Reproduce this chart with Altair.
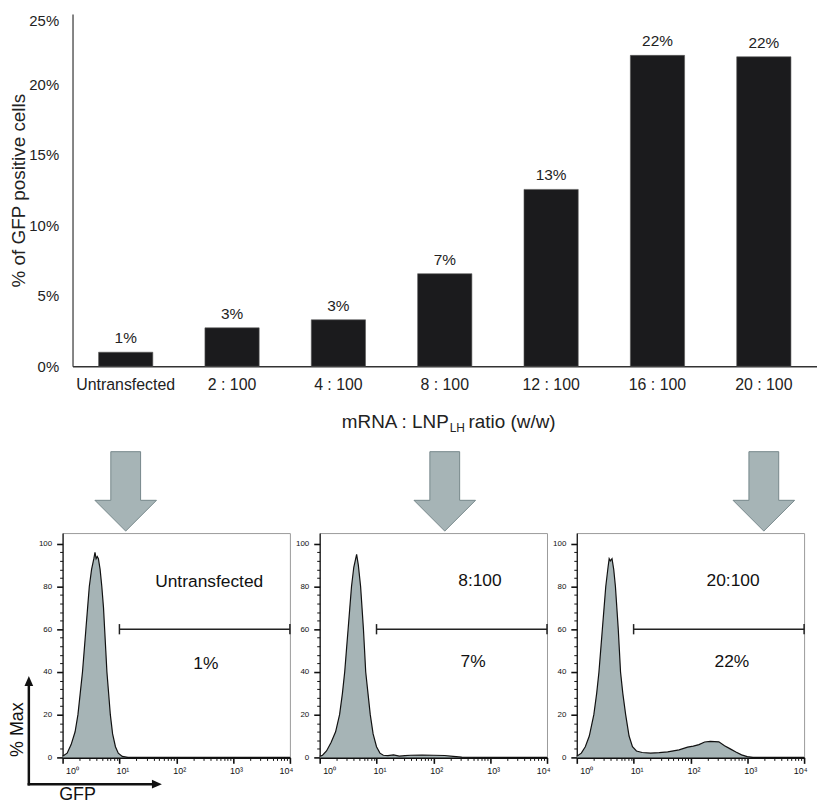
import altair as alt
import numpy as np
import pandas as pd

# ---------------- data: bar chart ----------------
categories = ["Untransfected", "2 : 100", "4 : 100", "8 : 100", "12 : 100", "16 : 100", "20 : 100"]
pct_values = [1.0, 2.73, 3.3, 6.57, 12.55, 22.06, 21.96]
pct_labels = ["1%", "3%", "3%", "7%", "13%", "22%", "22%"]
arrow_targets = ["Untransfected", "8 : 100", "20 : 100"]
bar_y_ticks = [0, 5, 10, 15, 20, 25]

# ---------------- data: histograms (log10 GFP, % Max) ----------------
hist1_lx = [0.00, 0.08, 0.15, 0.22, 0.27, 0.31, 0.35, 0.38, 0.41, 0.44, 0.47, 0.51, 0.55, 0.57, 0.59, 0.61,
            0.63, 0.66, 0.69, 0.72, 0.74, 0.76, 0.78, 0.81, 0.84, 0.88, 0.93, 0.98, 1.05, 1.15, 4.00]
hist1_y = [0.5, 2, 6, 12, 20, 30, 40, 50, 60, 70, 80, 88, 93, 96, 93, 94,
           93, 88, 80, 70, 60, 50, 40, 30, 20, 11, 5, 2, 0.5, 0, 0]

hist2_lx = [0.00, 0.05, 0.12, 0.20, 0.28, 0.35, 0.40, 0.44, 0.47, 0.50, 0.53, 0.56, 0.60, 0.65, 0.68, 0.72,
            0.745, 0.77, 0.79, 0.81, 0.85, 0.89, 0.94, 1.00, 1.06, 1.12, 1.2, 1.3, 1.4, 1.5, 1.6, 1.8,
            2.0, 2.2, 2.35, 2.5, 4.0]
hist2_y = [0.5, 1, 3, 7, 12, 20, 30, 40, 50, 60, 70, 80, 89, 95, 90, 80,
           70, 60, 50, 40, 30, 20, 11, 5, 2, 1, 0.8, 1.2, 0.6, 0.8, 1.0, 1.1,
           1.0, 0.9, 0.5, 0.1, 0]

hist3_lx = [0.00, 0.08, 0.15, 0.22, 0.30, 0.35, 0.39, 0.42, 0.45, 0.48, 0.51, 0.55, 0.57, 0.59, 0.62, 0.65,
            0.68, 0.705, 0.73, 0.75, 0.77, 0.81, 0.86, 0.92, 0.98, 1.05, 1.15, 1.3, 1.45, 1.6, 1.8, 1.95,
            2.05, 2.15, 2.25, 2.35, 2.5, 2.6, 2.7, 2.8, 2.9, 3.0, 3.1, 4.0]
hist3_y = [0.5, 2, 5, 10, 20, 30, 40, 50, 60, 70, 80, 89, 93, 92, 93, 88,
           80, 70, 60, 50, 40, 30, 20, 10, 5, 3, 2.3, 2, 2.2, 2.6, 3.5, 4.8,
           5.3, 6, 7.2, 7.5, 7.3, 5.5, 4, 2.5, 1.2, 0.4, 0, 0]

panel_names = ["Untransfected", "8:100", "20:100"]
panel_name_lx = [2.58, 2.82, 2.75]
panel_name_y = [82.3, 82.4, 82.4]
panel_pcts = ["1%", "7%", "22%"]
panel_pct_lx = [2.52, 2.70, 2.73]
panel_pct_y = [43.6, 44.7, 44.7]
gate_from = 10
gate_to = 10000
gate_level = 60

hist_y_ticks = list(range(0, 101, 4))
decades = [1, 10, 100, 1000, 10000]
hist_x_ticks = sorted(set(decades + [m * d for d in decades[:-1] for m in range(2, 10)]))

GREY = "#a6b4b6"
INK = "#111111"

# ---------------- top bar chart ----------------
H_TOP = 355
W_TOP = 750

top_df = pd.DataFrame({"cat": categories, "val": pct_values, "lab": pct_labels})

xenc = alt.X(
    "cat:N", sort=categories,
    scale=alt.Scale(domain=categories, paddingInner=0.49, paddingOuter=0.245),
    axis=alt.Axis(title=None, labelAngle=0, labelFontSize=16, labelColor="#222", labelPadding=10,
                  ticks=False, domainColor="#333", domainWidth=1.5),
)
yenc = alt.Y(
    "val:Q", scale=alt.Scale(domain=[0, 25], nice=False),
    axis=alt.Axis(title="% of GFP positive cells", titleFontSize=19, titleFontWeight="normal",
                  titleColor="#222", titlePadding=0, labelFontSize=15, labelColor="#222",
                  labelPadding=14, ticks=False, values=bar_y_ticks, labelExpr="datum.value + '%'",
                  labelBaseline={"condition": {"test": "datum.value === 25", "value": "top"},
                                 "value": "middle"},
                  grid=False, domainColor="#333", domainWidth=1.2),
)

bars = alt.Chart(top_df).mark_bar(color="#1b1b1d", stroke="#5a5a5a", strokeWidth=0.6).encode(x=xenc, y=yenc)
bar_text = alt.Chart(top_df).mark_text(baseline="alphabetic", dy=-9, fontSize=15.5, color="#222").encode(
    x=xenc, y=alt.Y("val:Q"), text="lab:N")

ARROW = "M-0.375,-1 L0.375,-1 L0.375,0.225 L0.775,0.225 L0,1 L-0.775,0.225 L-0.375,0.225 Z"
arrows = alt.Chart(pd.DataFrame({"cat": arrow_targets})).mark_point(
    shape=ARROW, size=6400, filled=True, fill=GREY, stroke="#76878a", strokeWidth=1,
    strokeJoin="round", opacity=1
).encode(x=xenc, y=alt.value(H_TOP + 126))

one = pd.DataFrame({"d": [0]})
xt1 = alt.Chart(one).mark_text(fontSize=19, align="right", baseline="alphabetic", color="#222").encode(
    x=alt.value(379), y=alt.value(H_TOP + 62), text=alt.value("mRNA : LNP"))
xt2 = alt.Chart(one).mark_text(fontSize=12, align="left", baseline="alphabetic", color="#222").encode(
    x=alt.value(380), y=alt.value(H_TOP + 66), text=alt.value("LH"))
xt3 = alt.Chart(one).mark_text(fontSize=19, align="left", baseline="alphabetic", color="#222").encode(
    x=alt.value(399), y=alt.value(H_TOP + 62), text=alt.value("ratio (w/w)"))

top = alt.layer(bars, bar_text, arrows, xt1, xt2, xt3).properties(width=W_TOP, height=H_TOP)

spacer = alt.Chart(one).mark_point(opacity=0).encode(x=alt.value(0), y=alt.value(0)).properties(
    width=10, height=H_TOP)
top_row = alt.hconcat(spacer, top, spacing=0, bounds="flush")

# ---------------- histogram panels ----------------
sup = "datum.value === 1 ? '10⁰' : datum.value === 10 ? '10¹' : datum.value === 100 ? '10²' : " \
      "datum.value === 1000 ? '10³' : datum.value === 10000 ? '10⁴' : ''"
major_x = "indexof([1,10,100,1000,10000], datum.value) >= 0"

xaxis = alt.Axis(
    title=None, values=hist_x_ticks, labelExpr=sup, labelFontSize=9, labelColor=INK,
    labelFlush=True, labelOffset=3, labelPadding=3, labelOverlap=False, grid=False,
    tickColor=INK,
    tickSize={"condition": {"test": major_x, "value": 6}, "value": 3},
    tickWidth={"condition": {"test": major_x, "value": 1.6}, "value": 1},
    domainColor=INK, domainWidth=2,
)
yaxis = alt.Axis(
    title=None, values=hist_y_ticks, labelExpr="datum.value % 20 === 0 ? datum.value : ''",
    labelFontSize=8, labelColor=INK, labelPadding=5, labelOverlap=False, grid=False,
    tickColor=INK,
    tickSize={"condition": {"test": "datum.value % 20 === 0", "value": 6}, "value": 3},
    tickWidth={"condition": {"test": "datum.value % 20 === 0", "value": 1.6}, "value": 1},
    domainColor=INK, domainWidth=1.2,
)

PW, PH = 229, 226


def panel(lx, ys, i, first=False):
    X = alt.X("gfp:Q", scale=alt.Scale(type="log", domain=[1, 10000], nice=False), axis=xaxis)
    Y = alt.Y("pmax:Q", scale=alt.Scale(domain=[0, 105], nice=False), axis=yaxis)
    df = pd.DataFrame({"gfp": np.power(10.0, np.array(lx)), "pmax": ys})
    area = alt.Chart(df).mark_area(
        color=GREY, opacity=1, line=alt.OverlayMarkDef(color=INK, strokeWidth=1.2)
    ).encode(x=X, y=Y)
    gate = alt.Chart(pd.DataFrame({"gfp": [gate_from], "gfp2": [gate_to], "pmax": [gate_level]})).mark_rule(
        color="#222", strokeWidth=1.5).encode(x=X, x2="gfp2:Q", y=Y)
    caps = alt.Chart(pd.DataFrame({"gfp": [gate_from, gate_to], "pmax": [gate_level - 2.4] * 2,
                                   "pmax2": [gate_level + 2.4] * 2})).mark_rule(
        color="#222", strokeWidth=1.5).encode(x=X, y=Y, y2="pmax2:Q")
    names = alt.Chart(pd.DataFrame({"gfp": [10 ** panel_name_lx[i], 10 ** panel_pct_lx[i]],
                                    "pmax": [panel_name_y[i], panel_pct_y[i]],
                                    "txt": [panel_names[i], panel_pcts[i]]})).mark_text(
        fontSize=17.5, color=INK).encode(x=X, y=Y, text="txt:N")
    layers = [area, gate, caps, names]
    if first:
        layers += [
            alt.Chart(one).mark_rule(color=INK, strokeWidth=2.5, strokeCap="square").encode(
                x=alt.value(-34), y=alt.value(155), y2=alt.value(253)),
            alt.Chart(one).mark_rule(color=INK, strokeWidth=2.5, strokeCap="square").encode(
                x=alt.value(-34), x2=alt.value(91), y=alt.value(253)),
            alt.Chart(one).mark_point(shape="M0,-1 L0.55,0.25 L-0.55,0.25 Z", size=256, filled=True,
                                      color=INK, opacity=1).encode(x=alt.value(-34), y=alt.value(152)),
            alt.Chart(one).mark_point(shape="M1,0 L-0.25,0.55 L-0.25,-0.55 Z", size=256, filled=True,
                                      color=INK, opacity=1).encode(x=alt.value(92), y=alt.value(253)),
            alt.Chart(one).mark_text(fontSize=18, angle=270, color=INK).encode(
                x=alt.value(-45), y=alt.value(198), text=alt.value("% Max")),
            alt.Chart(one).mark_text(fontSize=18, color=INK).encode(
                x=alt.value(15), y=alt.value(264), text=alt.value("GFP")),
        ]
    return alt.layer(*layers).properties(
        width=PW, height=PH, view=alt.ViewBackground(stroke="#9a9a9a", strokeWidth=1))


p1 = panel(hist1_lx, hist1_y, 0, first=True)
p2 = panel(hist2_lx, hist2_y, 1)
p3 = panel(hist3_lx, hist3_y, 2)

bottom_row = alt.hconcat(p1, p2, p3, spacing=30, bounds="flush")

chart = alt.vconcat(top_row, bottom_row, spacing=0).properties(
    padding=0
).configure(font="Liberation Sans").configure_view(stroke=None)

chart.save("out.html", embed_options={"renderer": "svg", "actions": False})
